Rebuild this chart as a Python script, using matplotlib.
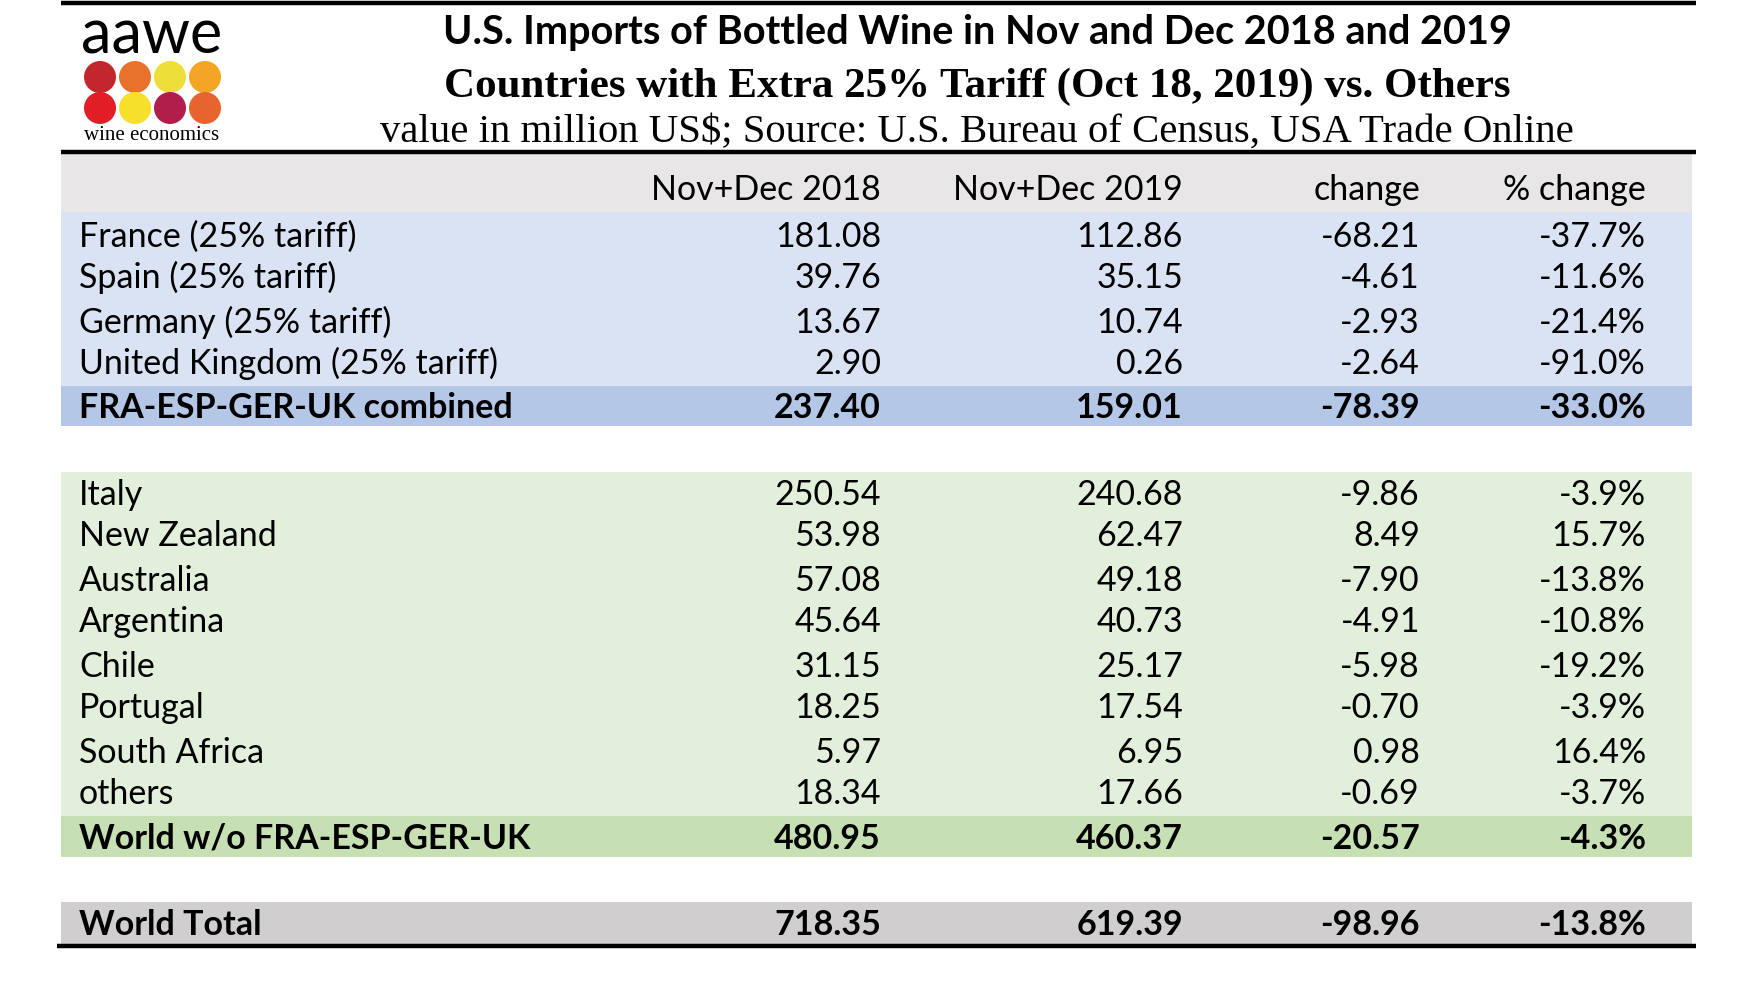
import matplotlib
matplotlib.use('Agg')
import matplotlib.pyplot as plt
from matplotlib.patches import Rectangle, Circle

# data (million US$)
tariff_countries = ['France (25% tariff)', 'Spain (25% tariff)', 'Germany (25% tariff)', 'United Kingdom (25% tariff)']
tariff_2018 = [181.08, 39.76, 13.67, 2.90]
tariff_2019 = [112.86, 35.15, 10.74, 0.26]
tariff_change = [-68.21, -4.61, -2.93, -2.64]
tariff_pct = [-37.7, -11.6, -21.4, -91.0]
tariff_total = ['FRA-ESP-GER-UK combined', 237.40, 159.01, -78.39, -33.0]

other_countries = ['Italy', 'New Zealand', 'Australia', 'Argentina', 'Chile', 'Portugal', 'South Africa', 'others']
other_2018 = [250.54, 53.98, 57.08, 45.64, 31.15, 18.25, 5.97, 18.34]
other_2019 = [240.68, 62.47, 49.18, 40.73, 25.17, 17.54, 6.95, 17.66]
other_change = [-9.86, 8.49, -7.90, -4.91, -5.98, -0.70, 0.98, -0.69]
other_pct = [-3.9, 15.7, -13.8, -10.8, -19.2, -3.9, 16.4, -3.7]
other_total = ['World w/o FRA-ESP-GER-UK', 480.95, 460.37, -20.57, -4.3]

world_total = ['World Total', 718.35, 619.39, -98.96, -13.8]

headers = ['Nov+Dec 2018', 'Nov+Dec 2019', 'change', '% change']

W, H = 1753, 1000
fig = plt.figure(figsize=(W / 100, H / 100), dpi=100)
ax = fig.add_axes([0, 0, 1, 1])
ax.set_xlim(0, W)
ax.set_ylim(H, 0)
ax.axis('off')

BODY = ['Lato', 'DejaVu Sans']
FS = 24.5
x_left, x_right = 61, 1692
label_x = 79
col_x = [881, 1183, 1420, 1646]   # right edges of the number columns
CAP = 12  # half cap height in px, baseline offset


def band(y0, y1, color):
    ax.add_patch(Rectangle((x_left, y0), x_right - x_left, y1 - y0, color=color, lw=0, zorder=0))


def row(y, label, vals, bold=False):
    w = 'bold' if bold else 'normal'
    ax.text(label_x, y + CAP, label, ha='left', va='baseline', fontsize=FS, family=BODY, fontweight=w)
    v18, v19, ch, pct = vals
    txt = ['%.2f' % v18, '%.2f' % v19, '%.2f' % ch, '%.1f%%' % pct]
    for cx, t in zip(col_x, txt):
        ax.text(cx, y + CAP, t, ha='right', va='baseline', fontsize=FS, family=BODY, fontweight=w)


# rules
ax.plot([61, 1696], [3, 3], color='black', lw=3.2, solid_capstyle='butt')
ax.plot([61, 1696], [152, 152], color='black', lw=3.2, solid_capstyle='butt')
ax.plot([57, 1696], [946, 946], color='black', lw=3.2, solid_capstyle='butt')

# logo
ax.text(152, 53, 'aawe', ha='center', va='baseline', fontsize=44, family=['Lato', 'DejaVu Sans'])
dot_colors = [['#c2272d', '#e8722b', '#eede3a', '#f4a523'],
              ['#e31d25', '#f6e02a', '#b21e4b', '#e8642e']]
for r, yc in enumerate([77, 108]):
    for c, xc in enumerate([100, 135, 170, 205]):
        ax.add_patch(Circle((xc, yc), 16, color=dot_colors[r][c], lw=0))
ax.text(152, 140, 'wine economics', ha='center', va='baseline', fontsize=15, family=['Liberation Serif'])

# titles
ax.text(977, 44, 'U.S. Imports of Bottled Wine in Nov and Dec 2018 and 2019', ha='center', va='baseline',
        fontsize=28.5, family=['Lato', 'DejaVu Sans'], fontweight='bold')
ax.text(977, 97, 'Countries with Extra 25% Tariff (Oct 18, 2019) vs. Others', ha='center', va='baseline',
        fontsize=31, family=['Liberation Serif'], fontweight='bold')
ax.text(977, 142, 'value in million US$; Source: U.S. Bureau of Census, USA Trade Online', ha='center',
        va='baseline', fontsize=29.3, family=['Liberation Serif'])

# backgrounds
band(154, 212, '#e8e6e6')
band(212, 386, '#dae3f3')
band(386, 426, '#b4c7e7')
band(472, 816, '#e2efda')
band(816, 857, '#c6e0b4')
band(902, 945, '#d0cece')

# header
for cx, t in zip(col_x, headers):
    ax.text(cx, 188 + CAP, t, ha='right', va='baseline', fontsize=FS, family=BODY)

tariff_y = [235, 276, 321, 362]
for i, y in enumerate(tariff_y):
    row(y, tariff_countries[i], (tariff_2018[i], tariff_2019[i], tariff_change[i], tariff_pct[i]))
row(406, tariff_total[0], tariff_total[1:], bold=True)

other_y = [493, 534, 579, 620, 665, 706, 751, 792]
for i, y in enumerate(other_y):
    row(y, other_countries[i], (other_2018[i], other_2019[i], other_change[i], other_pct[i]))
row(837, other_total[0], other_total[1:], bold=True)

row(923, world_total[0], world_total[1:], bold=True)

fig.savefig('out.png', dpi=100)
